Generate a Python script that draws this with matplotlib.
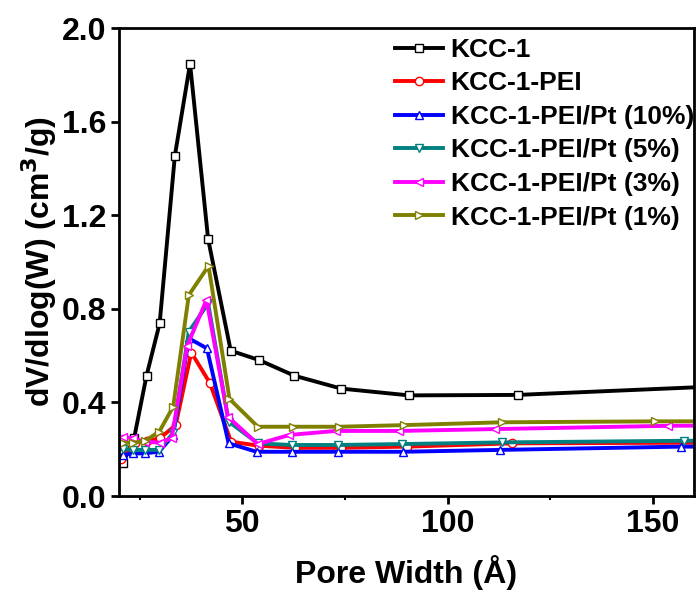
import matplotlib
matplotlib.use("Agg")
import matplotlib.pyplot as plt

plt.rcParams['font.family'] = ['Liberation Sans', 'DejaVu Sans']
plt.rcParams['font.weight'] = 'bold'
plt.rcParams['mathtext.default'] = 'bf'

labels = ["KCC-1", "KCC-1-PEI", "KCC-1-PEI/Pt (10%)", "KCC-1-PEI/Pt (5%)",
          "KCC-1-PEI/Pt (3%)", "KCC-1-PEI/Pt (1%)"]

x_kcc = [21.0, 23.7, 26.7, 29.9, 33.6, 37.3, 41.7, 47.2, 54.1, 62.7, 74.1, 90.6, 117.1, 165]
y_kcc = [0.142, 0.249, 0.514, 0.738, 1.454, 1.847, 1.098, 0.621, 0.581, 0.514, 0.459, 0.430, 0.432, 0.468]

x_pei = [20.5, 23.9, 26.7, 29.9, 33.8, 37.6, 42.1, 47.3, 54.0, 62.8, 74.1, 90.2, 115.6, 165]
y_pei = [0.16, 0.228, 0.235, 0.246, 0.303, 0.613, 0.484, 0.232, 0.215, 0.206, 0.206, 0.211, 0.225, 0.228]

x_pt10 = [21.0, 23.5, 26.3, 29.8, 33.2, 37.0, 41.4, 46.7, 53.5, 62.1, 73.4, 89.1, 112.8, 156.8, 200]
y_pt10 = [0.175, 0.182, 0.182, 0.19, 0.26, 0.674, 0.631, 0.225, 0.189, 0.189, 0.189, 0.189, 0.197, 0.211, 0.21]

x_pt5 = [21.0, 23.5, 26.3, 29.8, 33.2, 37.0, 41.7, 46.7, 53.8, 62.0, 73.2, 88.9, 113.2, 157.6, 200]
y_pt5 = [0.20, 0.197, 0.197, 0.197, 0.27, 0.702, 0.823, 0.318, 0.225, 0.218, 0.218, 0.222, 0.229, 0.236, 0.24]

x_pt3 = [21.0, 23.5, 26.3, 29.9, 32.8, 36.6, 41.3, 46.5, 53.8, 61.5, 72.8, 88.1, 111.6, 153.6, 200]
y_pt3 = [0.253, 0.246, 0.232, 0.228, 0.246, 0.641, 0.838, 0.339, 0.222, 0.261, 0.278, 0.278, 0.286, 0.300, 0.305]

x_pt1 = [21.0, 23.5, 26.3, 29.8, 33.2, 37.0, 41.8, 46.9, 53.8, 62.4, 73.6, 89.5, 113.2, 150.6, 200]
y_pt1 = [0.228, 0.228, 0.235, 0.275, 0.382, 0.859, 0.983, 0.415, 0.296, 0.296, 0.296, 0.303, 0.315, 0.319, 0.32]

xs = [x_kcc, x_pei, x_pt10, x_pt5, x_pt3, x_pt1]
ys = [y_kcc, y_pei, y_pt10, y_pt5, y_pt3, y_pt1]
colors = ['black', '#FF0000', '#0000FF', '#008080', '#FF00FF', '#808000']
markers = ['s', 'o', '^', 'v', '<', '>']

fig = plt.figure(figsize=(6.96, 5.96), dpi=100)
ax = fig.add_axes([119/696, 100/596, (694-119)/696, (496-28)/596])

for x, y, c, m, lab in zip(xs, ys, colors, markers, labels):
    ax.plot(x, y, color=c, marker=m, markersize=6, markerfacecolor='white',
            markeredgecolor=c, markeredgewidth=1.0, linewidth=2.8, label=lab)

ax.set_xlim(20, 160)
ax.set_ylim(0, 2.0)
ax.set_xticks([50, 100, 150])
ax.set_xticks([25, 75, 125], minor=True)
ax.set_yticks([0.0, 0.4, 0.8, 1.2, 1.6, 2.0])
ax.set_yticklabels(['0.0', '0.4', '0.8', '1.2', '1.6', '2.0'])
ax.tick_params(axis='both', which='major', direction='out', length=6, width=2,
               labelsize=23, pad=3)
ax.tick_params(axis='x', which='minor', direction='out', length=3, width=1.5)
for lab in ax.get_xticklabels() + ax.get_yticklabels():
    lab.set_fontweight('bold')
for s in ax.spines.values():
    s.set_linewidth(2)

ax.set_xlabel('Pore Width (Å)', fontsize=23, fontweight='bold', labelpad=12)
ax.set_ylabel('dV/dlog(W) (cm$^3$/g)', fontsize=23, fontweight='bold', labelpad=2)

leg = ax.legend(loc='upper right', frameon=False, fontsize=19, handlelength=1.8,
                labelspacing=0.36, handletextpad=0.3, borderaxespad=0.0,
                borderpad=0.0, bbox_to_anchor=(694/696, (596-38)/596),
                bbox_transform=fig.transFigure)
for t in leg.get_texts():
    t.set_fontweight('bold')

fig.savefig('out.png', dpi=100)
